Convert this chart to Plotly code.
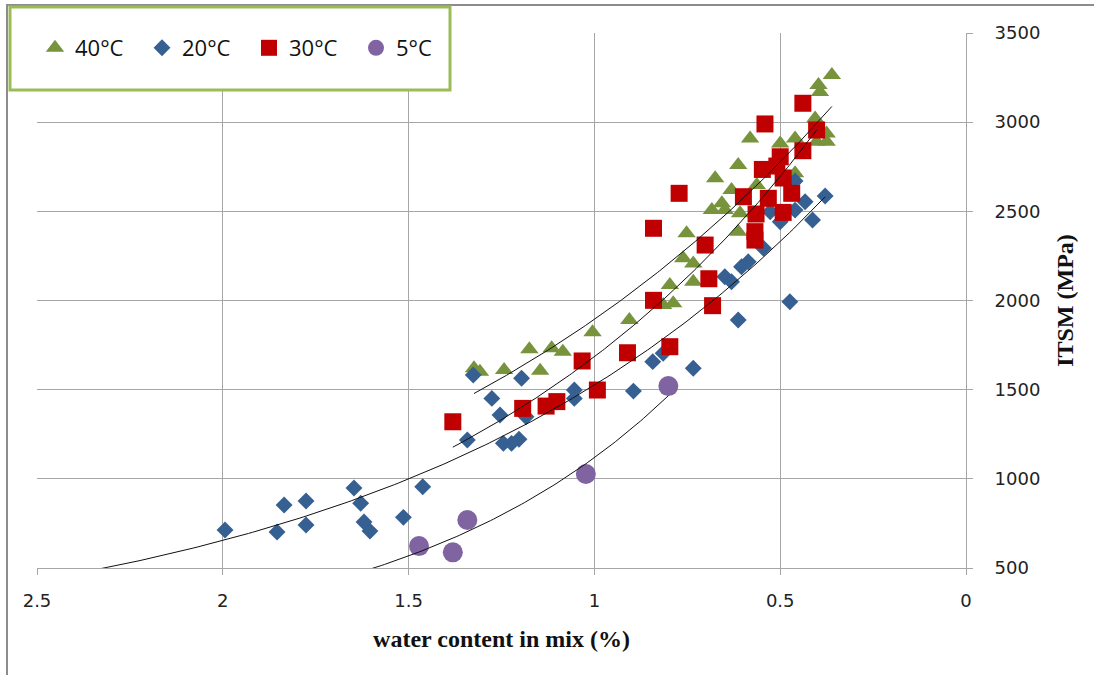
import numpy as np
import plotly.graph_objects as go

# ---------------- data ----------------
t40_x = [0.361, 0.397, 0.393, 0.406, 0.375, 0.402, 0.375, 0.581, 0.500, 0.460,
         0.613, 0.675, 0.631, 0.563, 0.460, 0.657, 0.684, 0.649, 0.608, 0.752,
         0.761, 0.734, 0.734, 0.797, 0.788, 0.815, 0.613, 0.906, 1.005, 1.085,
         1.115, 1.175, 1.146, 1.243, 1.324, 1.308]
t40_y = [3264, 3208, 3169, 3021, 2937, 2890, 2890, 2909, 2881, 2909,
         2760, 2685, 2619, 2647, 2713, 2545, 2507, 2507, 2489, 2377,
         2237, 2208, 2105, 2087, 1984, 1975, 2386, 1891, 1822, 1713,
         1732, 1726, 1606, 1610, 1620, 1601]

d20_x = [1.994, 1.854, 1.835, 1.776, 1.776, 1.647, 1.629, 1.620, 1.604, 1.514,
         1.462, 1.326, 1.276, 1.254, 1.342, 1.245, 1.223, 1.203, 1.196, 1.184,
         1.054, 1.054, 0.895, 0.843, 0.815, 0.734, 0.613, 0.379, 0.433, 0.413,
         0.527, 0.500, 0.460, 0.460, 0.545, 0.586, 0.604, 0.649, 0.631, 0.474]
d20_y = [713, 702, 853, 876, 741, 949, 863, 758, 707, 784,
         956, 1582, 1451, 1358, 1218, 1199, 1199, 1222, 1564, 1348,
         1498, 1451, 1492, 1657, 1704, 1620, 1891, 2586, 2554, 2451,
         2498, 2442, 2507, 2670, 2293, 2217, 2189, 2133, 2105, 1993]

s30_x = [0.439, 0.541, 0.402, 0.439, 0.500, 0.509, 0.548, 0.492, 0.772, 0.599,
         0.532, 0.469, 0.492, 0.565, 0.568, 0.568, 0.841, 0.702, 0.692, 0.841,
         0.682, 0.797, 0.911, 1.033, 0.992, 1.101, 1.130, 1.193, 1.381]
s30_y = [3106, 2990, 2956, 2840, 2806, 2754, 2735, 2687, 2601, 2582,
         2573, 2601, 2494, 2485, 2386, 2339, 2405, 2311, 2122, 2001,
         1971, 1741, 1707, 1661, 1498, 1433, 1408, 1395, 1320]

c5_x = [0.801, 1.023, 1.342, 1.472, 1.381]
c5_y = [1520, 1027, 769, 623, 588]

series_names = ["40°C", "20°C", "30°C", "5°C"]
backward_forecast = [0.0, 0.5, 0.0, 1.0]   # trendline extension toward higher water content

x_ticks = [2.5, 2, 1.5, 1, 0.5, 0]
y_ticks = [500, 1000, 1500, 2000, 2500, 3000, 3500]
y_grid = [1000, 1500, 2000, 2500, 3000]

# ---------------- styling ----------------
styles = [
    dict(symbol="triangle-up", color="#77933C", size=16),
    dict(symbol="diamond", color="#376092", size=13),
    dict(symbol="square", color="#C00000", size=17),
    dict(symbol="circle", color="#8064A2", size=20),
]
data_sets = [(t40_x, t40_y), (d20_x, d20_y), (s30_x, s30_y), (c5_x, c5_y)]

fig = go.Figure()
for name, (xs, ys), st in zip(series_names, data_sets, styles):
    fig.add_trace(go.Scatter(
        x=xs, y=ys, mode="markers", name=name,
        marker=dict(symbol=st["symbol"], color=st["color"], size=st["size"],
                    line=dict(width=0)),
    ))


def exp_fit(xs, ys):
    b, ln_a = np.polyfit(np.asarray(xs, float), np.log(np.asarray(ys, float)), 1)
    return np.exp(ln_a), b


for (xs, ys), fc in zip(data_sets, backward_forecast):
    a, b = exp_fit(xs, ys)
    xl = np.linspace(min(xs), max(xs) + fc, 200)
    fig.add_trace(go.Scatter(
        x=xl, y=a * np.exp(b * xl), mode="lines", showlegend=False,
        hoverinfo="skip", line=dict(color="#111111", width=1),
    ))

# empty trace carrying the grid-only overlay axis
fig.add_trace(go.Scatter(x=[None], y=[None], yaxis="y2", showlegend=False,
                         hoverinfo="skip", mode="markers"))

# ---------------- layout ----------------
W, H = 1094, 675
ml, mr, mt, mb = 37, 128, 33, 107
pw, ph = W - ml - mr, H - mt - mb


def px2paper_x(px):
    return (px - ml) / pw


def px2paper_y(py):
    return (H - mb - py) / ph


grid_col = "#A6A6A6"
tick_font = dict(family="DejaVu Sans", size=18, color="#222222")
title_font = dict(family="Liberation Serif", size=24, color="#111111", weight="bold")

fig.update_layout(
    width=W, height=H,
    margin=dict(l=ml, r=mr, t=mt, b=mb, autoexpand=False),
    paper_bgcolor="white", plot_bgcolor="white",
    showlegend=True,
    legend=dict(
        orientation="h", x=px2paper_x(35), y=px2paper_y(48),
        xanchor="left", yanchor="middle",
        font=dict(family="Open Sans", size=22, color="#111111"),
        bgcolor="rgba(0,0,0,0)", borderwidth=0,
        entrywidth=62, entrywidthmode="pixels",
    ),
    xaxis=dict(
        range=[2.5, 0], tickvals=x_ticks, ticktext=[str(v) for v in x_ticks],
        showline=True, linecolor=grid_col, linewidth=1,
        ticks="outside", ticklen=6, tickcolor=grid_col,
        showgrid=True, gridcolor=grid_col, gridwidth=1, zeroline=False,
        tickfont=tick_font, ticklabelstandoff=10,
        title=dict(text="water content in mix (%)", standoff=20, font=title_font),
    ),
    yaxis=dict(
        range=[500, 3500], tickvals=y_ticks, side="right",
        showline=True, linecolor=grid_col, linewidth=1,
        ticks="outside", ticklen=6, tickcolor=grid_col,
        showgrid=False, zeroline=False,
        tickfont=tick_font, ticklabelstandoff=18,
        title=dict(text="ITSM (MPa)", standoff=16, font=title_font),
    ),
    yaxis2=dict(
        range=[500, 3500], tickvals=y_grid, overlaying="y", side="right",
        anchor="x", showline=False, ticks="", showticklabels=False,
        showgrid=True, gridcolor=grid_col, gridwidth=1, zeroline=False,
    ),
    shapes=[
        dict(type="rect", xref="paper", yref="paper",
             x0=px2paper_x(7), x1=px2paper_x(W + 20),
             y0=px2paper_y(H + 20), y1=px2paper_y(5),
             line=dict(color="#8C8C8C", width=2), fillcolor="rgba(0,0,0,0)",
             layer="above"),
        dict(type="rect", xref="paper", yref="paper",
             x0=px2paper_x(10), x1=px2paper_x(450),
             y0=px2paper_y(90), y1=px2paper_y(7),
             line=dict(color="#9BBB59", width=3), fillcolor="white",
             layer="above"),
    ],
)

fig.write_html("out.html")
